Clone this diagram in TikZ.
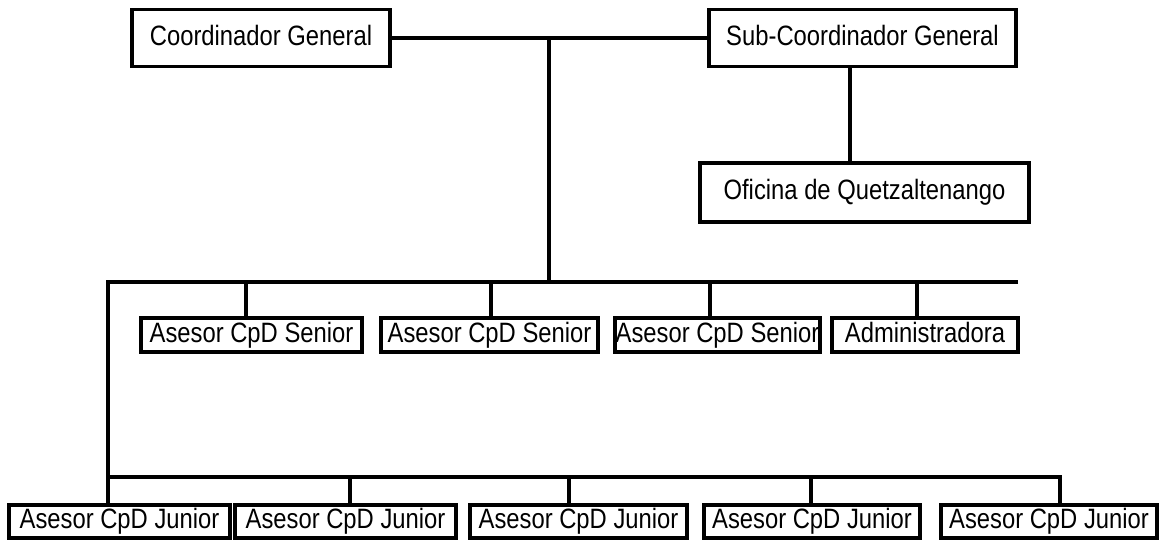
\documentclass[tikz,border=0pt]{standalone}
\usepackage{fontspec}
\setmainfont{Liberation Sans}[FakeStretch=0.85]
\begin{document}
\begin{tikzpicture}[x=1pt,y=-1pt,
  box/.style={draw,line width=3.5pt,inner sep=0pt,font=\fontsize{28}{32}\selectfont,text height=20pt,text depth=5.5pt,minimum height=34pt,anchor=center},
  big/.style={box,minimum height=57pt},
  conn/.style={line width=3.5pt}]
\useasboundingbox (0,0) rectangle (1161,542);
% top level
\node[big,minimum width=258pt] (cg) at (261,38) {Coordinador General};
\node[big,minimum width=307pt] (scg) at (862.5,38) {Sub-Coordinador General};
\node[big,minimum width=329pt,minimum height=59pt] (oq) at (864.5,192.5) {Oficina de Quetzaltenango};
% seniors
\node[box,minimum width=221pt] (s1) at (251.5,335) {Asesor CpD Senior};
\node[box,minimum width=217pt] (s2) at (489.5,335) {Asesor CpD Senior};
\node[box,minimum width=205pt] (s3) at (717.5,335) {Asesor CpD Senior};
\node[box,minimum width=186pt] (ad) at (925,335) {Administradora\hspace{14pt}};
% juniors
\node[box,minimum width=221pt,minimum height=33pt] (j1) at (119.5,521.5) {Asesor CpD Junior};
\node[box,minimum width=221pt,minimum height=33pt] (j2) at (345.5,521.5) {Asesor CpD Junior};
\node[box,minimum width=217pt,minimum height=33pt] (j3) at (578.5,521.5) {Asesor CpD Junior};
\node[box,minimum width=216pt,minimum height=33pt] (j4) at (812,521.5) {Asesor CpD Junior};
\node[box,minimum width=216pt,minimum height=33pt] (j5) at (1049,521.5) {Asesor CpD Junior};
% connectors
\coordinate (hub) at (549,38);
\coordinate (sl) at (108,282);
\coordinate (sr) at (1018,282);
\coordinate (jl) at (108,477);
\coordinate (jr) at (1060,477);
\draw[conn] (cg.east) -- (scg.west);
\draw[conn] (hub) -- (hub |- sl);
\draw[conn] ([xshift=-12.5pt]scg.south) -- ([xshift=-14.5pt]oq.north);
\draw[conn] (sr) -- (sl) -- (jl) -- (jr) -- (jr |- j5.north);
\draw[conn] (jl) -- (jl |- j1.north);
\draw[conn] ([xshift=-5.5pt]s1.north) |- (sl);
\draw[conn] ([xshift=1.5pt]s2.north) |- (sl);
\draw[conn] ([xshift=-7.5pt]s3.north) |- (sl);
\draw[conn] ([xshift=-8pt]ad.north) |- (sl);
\draw[conn] ([xshift=4.5pt]j2.north) |- (jl);
\draw[conn] ([xshift=-9.5pt]j3.north) |- (jl);
\draw[conn] ([xshift=-1pt]j4.north) |- (jl);
\end{tikzpicture}
\end{document}
